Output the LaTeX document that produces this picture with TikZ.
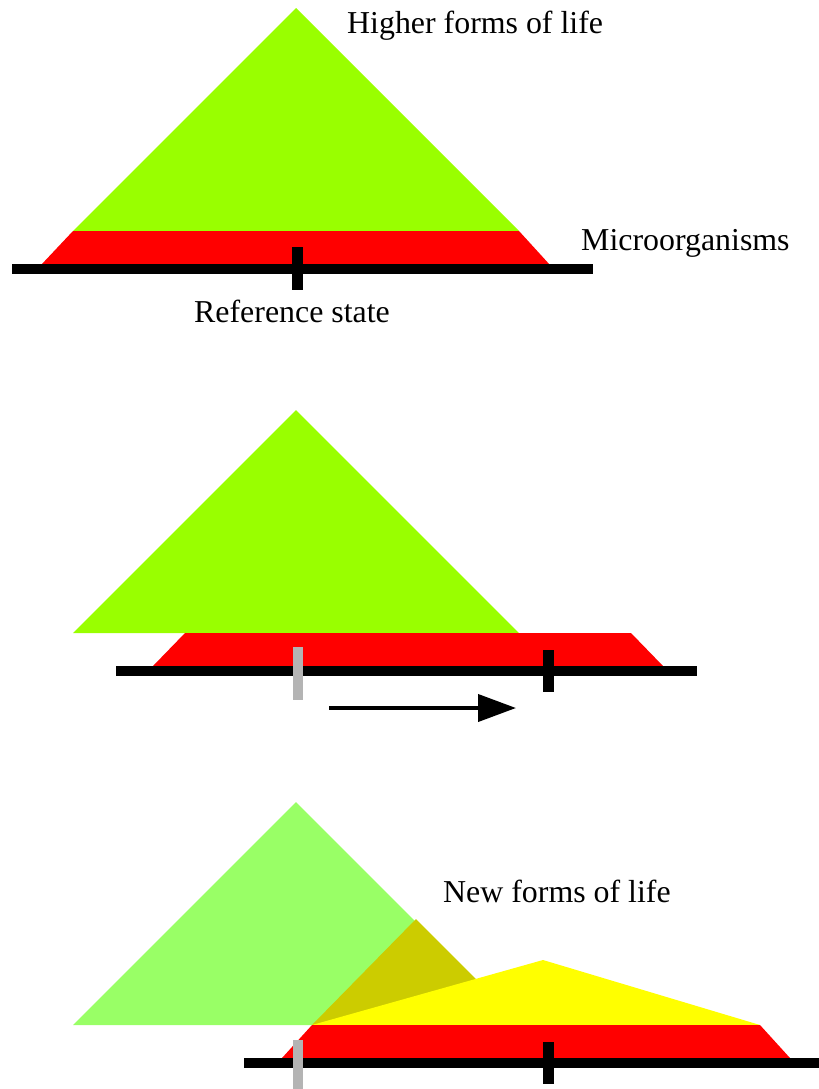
\documentclass[tikz,border=0pt]{standalone}
\usepackage{fontspec}
\setmainfont{Liberation Serif}
\usetikzlibrary{arrows.meta}
\definecolor{lifeGreen}{HTML}{99FF00}
\definecolor{lifePale}{HTML}{99FF66}
\definecolor{lifeOlive}{HTML}{CCCC00}
\definecolor{lifeYellow}{HTML}{FFFF00}
\definecolor{microRed}{HTML}{FF0000}
\definecolor{refGray}{HTML}{B4B4B4}

\begin{document}
\begin{tikzpicture}[x=1bp,y=-1bp,>=Latex,
  lbl/.style={inner sep=0pt,anchor=base west,font=\fontsize{32}{38}\selectfont},
  axisline/.style={line width=10bp},
  tickmark/.style={line width=11bp},
  oldtick/.style={line width=10bp,draw=refGray}]
  \useasboundingbox (0,0) rectangle (819,1089);
  % top: reference state
  \fill[lifeGreen] (296,8) -- (519,231) -- (73,231) -- cycle;
  \fill[microRed] (73,231) -- (519,231) -- (550,265) -- (41,265) -- cycle;
  \draw[axisline] (12,269) -- (593,269);
  \draw[tickmark] (297,247) -- (297,290);
  \node[lbl] (higher) at (347,33) {Higher forms of life};
  \node[lbl] (micro) at (581,250) {Microorganisms};
  \node[lbl] (ref) at (194,322) {Reference state};
  % middle: shifted state
  \fill[lifeGreen] (296,410) -- (519,633) -- (73,633) -- cycle;
  \fill[microRed] (185,633) -- (631,633) -- (663,666) -- (153,666) -- cycle;
  \draw[axisline] (116,671) -- (697,671);
  \draw[oldtick] (297.5,647) -- (297.5,700);
  \draw[tickmark] (548,650) -- (548,692);
  \coordinate (shiftA) at (329,708);
  \coordinate (shiftB) at (516,708);
  \draw[->,line width=4bp,arrows={-Triangle[length=38bp,width=27bp]}] (shiftA) -- (shiftB);
  % bottom: new forms of life
  \fill[lifePale] (296,802) -- (519,1025) -- (73,1025) -- cycle;
  \fill[lifeOlive] (416,919) -- (522,1025) -- (312,1025) -- cycle;
  \fill[lifeYellow] (543,960) -- (760,1025) -- (312,1025) -- cycle;
  \fill[microRed] (312,1025) -- (760,1025) -- (790,1058) -- (282,1058) -- cycle;
  \draw[axisline] (244,1063) -- (819,1063);
  \draw[oldtick] (297.5,1040) -- (297.5,1089);
  \draw[tickmark] (548.5,1042) -- (548.5,1084);
  \node[lbl] (new) at (443,902) {New forms of life};
\end{tikzpicture}
\end{document}
